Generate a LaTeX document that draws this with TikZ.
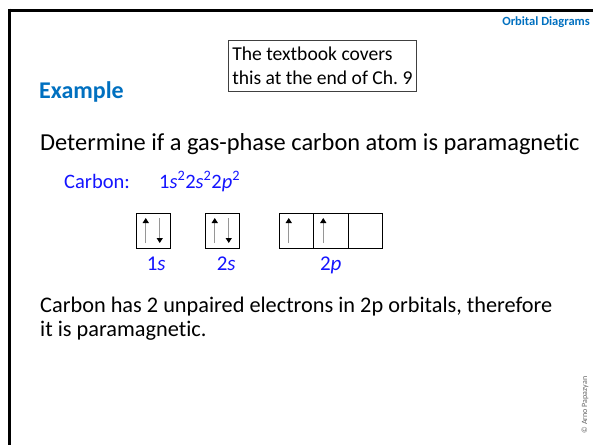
\documentclass[tikz,border=0pt]{standalone}
\usepackage{fontspec}
\setmainfont{Carlito}[Ligatures=NoCommon]
\usetikzlibrary{arrows.meta}
\definecolor{hdblue}{RGB}{0,112,192}
\definecolor{txblue}{RGB}{20,20,255}
\definecolor{shaft}{RGB}{150,150,150}
\tikzset{
  x=1pt, y=-1pt,
  frameline/.style={line width=3pt, black},
  orb/.style={draw, line width=0.9pt, minimum width=34.5pt, minimum height=35pt, inner sep=0pt, outer sep=0pt},
  orblabel/.style={text=txblue, font=\fontsize{21}{25}\selectfont, inner sep=0pt, anchor=base},
  spinup/.style={shaft, line width=1.2pt, -{Triangle[length=5pt,width=6pt,black]}},
  body/.style={font=\fontsize{24}{29}\selectfont, inner sep=0pt, anchor=base west},
}
\begin{document}
\begin{tikzpicture}
\useasboundingbox (0,0) rectangle (593,445);
\fill[white] (0,0) rectangle (593,445);
% frame
\draw[frameline] (8,10) -- (593,10);
\draw[frameline] (9.5,8.5) -- (9.5,445);
% header
\node[anchor=east, inner sep=0pt, text=hdblue, font=\fontsize{12.5}{15}\selectfont\bfseries] (hdr) at (590,22) {Orbital Diagrams};
% textbook box
\node[draw=black!75, line width=0.8pt, anchor=north west, minimum width=188pt, minimum height=51pt,
      align=left, inner xsep=3pt, inner ysep=2pt,
      font=\fontsize{19.6}{23.5}\selectfont] (tb) at (228,40) {The textbook covers\\this at the end of Ch.~9};
% title
\node[body, text=hdblue, font=\fontsize{24}{29}\selectfont\bfseries] (ex) at (39,98) {Example};
\node[body, font=\fontsize{24.4}{29}\selectfont] (q) at (40,150) {Determine if a gas-phase carbon atom is paramagnetic};
% configuration
\node[body, text=txblue, font=\fontsize{20.5}{25}\selectfont] (clab) at (64,188) {Carbon:};
\node[body, text=txblue, font=\fontsize{20.5}{25}\selectfont] (conf) at (159,188) {1\textit{s}\textsuperscript{2}2\textit{s}\textsuperscript{2}2\textit{p}\textsuperscript{2}};
% orbital boxes
\node[orb, anchor=north west] (o1s) at (136,213) {};
\node[orb, anchor=north west] (o2s) at (205,213) {};
\node[orb, anchor=north west] (o2pa) at (279,213) {};
\node[orb, anchor=west] (o2pb) at (o2pa.east) {};
\node[orb, anchor=west] (o2pc) at (o2pb.east) {};
% spins
\draw[spinup] ([xshift=-7.5pt,yshift=5pt]o1s.south) -- ([xshift=-7.5pt,yshift=-5pt]o1s.north);
\draw[spinup] ([xshift=6.5pt,yshift=-5pt]o1s.north) -- ([xshift=6.5pt,yshift=5pt]o1s.south);
\draw[spinup] ([xshift=-7.5pt,yshift=5pt]o2s.south) -- ([xshift=-7.5pt,yshift=-5pt]o2s.north);
\draw[spinup] ([xshift=6.5pt,yshift=-5pt]o2s.north) -- ([xshift=6.5pt,yshift=5pt]o2s.south);
\draw[spinup] ([xshift=-7.5pt,yshift=5pt]o2pa.south) -- ([xshift=-7.5pt,yshift=-5pt]o2pa.north);
\draw[spinup] ([xshift=-7.5pt,yshift=5pt]o2pb.south) -- ([xshift=-7.5pt,yshift=-5pt]o2pb.north);
% labels
\node[orblabel] (l1s) at ([xshift=3pt]o1s.south |- 0,270) {1\textit{s}};
\node[orblabel] (l2s) at ([xshift=4pt]o2s.south |- 0,270) {2\textit{s}};
\node[orblabel] (l2p) at (o2pb.south |- 0,270) {2\textit{p}};
% conclusion
\node[body, font=\fontsize{22.3}{27}\selectfont] (c1) at (40,312) {Carbon has 2 unpaired electrons in 2p orbitals, therefore};
\node[body, font=\fontsize{22.3}{27}\selectfont] (c2) at (40,336) {it is paramagnetic.};
% copyright
\node[rotate=90, text=black!60, inner sep=0pt, font=\fontsize{8}{9}\selectfont] (cp) at (585,405) {\textcopyright{} Arno Papazyan};
\end{tikzpicture}
\end{document}
